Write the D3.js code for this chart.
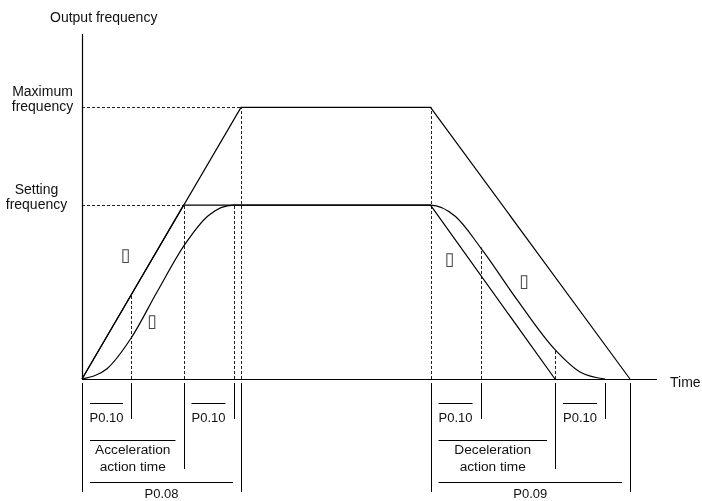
<!DOCTYPE html>
<html>
<head>
<meta charset="utf-8">
<script src="https://cdn.jsdelivr.net/npm/d3@7"></script>
<style>
  body { margin: 0; background: #fff; }
  svg { will-change: transform; }
  text { font-family: "Liberation Sans", Arial, sans-serif; font-size: 13.7px; fill: #111; }
</style>
</head>
<body>
<div id="viz-container"></div>
<script>
var width = 702,
    height = 501;

// frequencies (Hz) and time (s)
var maxFreq = 50,
    setFreq = 32;

// straight ramp to the maximum frequency
var maxLineT = [0, 3.18, 6.97, 10.96];
var maxLineF = [0, maxFreq, maxFreq, 0];

// straight ramp to the setting frequency
var setLineT = [0, 2.03, 6.97, 9.46];
var setLineF = [0, setFreq, setFreq, 0];

// S-curve ramp
var sCurveT = [0, 0.5, 0.98, 1.5, 2.03, 2.53, 3.03, 6.97, 7.47, 7.97, 8.7, 9.46, 9.96, 10.46];
var sCurveF = [0, 1.9, 7.5, 16, 24.4, 30.1, 32, 32, 29.9, 24.2, 14.6, 5.4, 1.3, 0];

// dashed guides: time, and frequency they reach up to
var guideT = [0.98, 2.03, 3.03, 3.18, 6.97, 7.97, 9.46];
var guideF = [15.7, 32, 32, 50, 50, 24.2, 5.4];

// markers below the time axis: time and length class
var markT = [0, 0.98, 2.03, 3.03, 3.18, 6.97, 7.97, 9.46, 10.46, 10.96];
var markLen = ["long", "short", "mid", "short", "long", "long", "short", "mid", "short", "long"];

// spans labelled under the axis
var spanLabels = [["P0.10"], ["P0.10"], ["Acceleration", "action time"], ["P0.08"],
                  ["P0.10"], ["P0.10"], ["Deceleration", "action time"], ["P0.09"]];
var spanFrom = [0, 2.03, 0, 0, 6.97, 9.46, 6.97, 6.97];
var spanTo = [0.98, 3.03, 2.03, 3.18, 7.97, 10.46, 9.46, 10.96];
var spanRow = [0, 0, 1, 2, 0, 0, 1, 2];

// circled step markers (shown as boxes in the source)
var stepT = [0.87, 1.4, 7.35, 8.84];
var stepF = [23.0, 10.8, 22.2, 18.3];

var svg = d3.select("#viz-container")
            .append("svg")
            .attr("width", width)
            .attr("height", height);

var x = d3.scaleLinear().domain([0, 11.5]).range([82, 657]);
var y = d3.scaleLinear().domain([0, 63.5]).range([379, 34]);

function zip(ts, fs) {
  return ts.map(function(t, i) { return {t: t, f: fs[i]}; });
}

var line = d3.line()
             .x(function(d) { return x(d.t); })
             .y(function(d) { return y(d.f); });

// dashed guides
var dash = svg.append("g")
              .attr("stroke", "#222")
              .attr("stroke-width", 1)
              .attr("stroke-dasharray", "3,2")
              .attr("fill", "none");

dash.selectAll("line.v")
    .data(guideT)
    .enter().append("line")
    .attr("class", "v")
    .attr("x1", function(d) { return Math.round(x(d)) + 0.5; })
    .attr("x2", function(d) { return Math.round(x(d)) + 0.5; })
    .attr("y1", y(0))
    .attr("y2", function(d, i) { return y(guideF[i]); });

dash.selectAll("line.h")
    .data([[maxFreq, 3.18], [setFreq, 2.03]])
    .enter().append("line")
    .attr("class", "h")
    .attr("x1", x(0))
    .attr("x2", function(d) { return x(d[1]); })
    .attr("y1", function(d) { return Math.round(y(d[0])) + 0.5; })
    .attr("y2", function(d) { return Math.round(y(d[0])) + 0.5; });

// ramps
var curves = svg.append("g")
                .attr("fill", "none")
                .attr("stroke", "#000")
                .attr("stroke-width", 1.2);

curves.append("path").attr("d", line(zip(maxLineT, maxLineF)));
curves.append("path").attr("d", line(zip(setLineT, setLineF)));
curves.append("path").attr("d", line.curve(d3.curveMonotoneX)(zip(sCurveT, sCurveF)));

// axes
svg.append("line")
   .attr("x1", x(0) + 0.5).attr("x2", x(0) + 0.5)
   .attr("y1", y(63.5)).attr("y2", y(0))
   .attr("stroke", "#000").attr("stroke-width", 1.2);

svg.append("line")
   .attr("x1", x(0)).attr("x2", x(11.5))
   .attr("y1", y(0) + 0.5).attr("y2", y(0) + 0.5)
   .attr("stroke", "#000").attr("stroke-width", 1.2);

svg.append("text").attr("x", 50).attr("y", 22).style("font-size", "14px").text("Output frequency");
svg.append("text").attr("x", 670).attr("y", 387).style("font-size", "14px").text("Time");

var yLabels = [["Maximum", "frequency"], ["Setting", "frequency"]];
var yLabelF = [maxFreq, setFreq];
svg.selectAll("text.ylab")
   .data(yLabels)
   .enter().append("text")
   .attr("class", "ylab")
   .attr("text-anchor", "middle")
   .style("font-size", "14px")
   .selectAll("tspan")
   .data(function(d, i) { return d.map(function(s, j) { return {s: s, j: j, f: yLabelF[i]}; }); })
   .enter().append("tspan")
   .attr("x", function(d) { return d.f === maxFreq ? 42.5 : 36.5; })
   .attr("y", function(d) { return y(d.f) - 11 + d.j * 15; })
   .text(function(d) { return d.s; });

svg.selectAll("text.step")
   .data(stepT)
   .enter().append("text")
   .attr("class", "step")
   .attr("text-anchor", "middle")
   .attr("x", function(d) { return x(d); })
   .attr("y", function(d, i) { return y(stepF[i]) + 7; })
   .style("font-family", "DejaVu Sans")
   .style("font-size", "18px")
   .style("fill", "#444")
   .text("\u25AF");

// markers under the axis
var markBottom = {short: 419, mid: 469, long: 492};
svg.append("g")
   .attr("stroke", "#000")
   .attr("stroke-width", 1)
   .selectAll("line")
   .data(markT)
   .enter().append("line")
   .attr("x1", function(d) { return Math.round(x(d)) + 0.5; })
   .attr("x2", function(d) { return Math.round(x(d)) + 0.5; })
   .attr("y1", 383)
   .attr("y2", function(d, i) { return markBottom[markLen[i]]; });

var rowLineY = [403.5, 440.5, 482.5];
var rowTextY = [421.5, 454, 498];

var span = svg.selectAll("g.span")
              .data(spanLabels)
              .enter().append("g")
              .attr("class", "span");

span.append("line")
    .attr("x1", function(d, i) { return x(spanFrom[i]) + 8; })
    .attr("x2", function(d, i) { return x(spanTo[i]) - 8; })
    .attr("y1", function(d, i) { return rowLineY[spanRow[i]]; })
    .attr("y2", function(d, i) { return rowLineY[spanRow[i]]; })
    .attr("stroke", "#000")
    .attr("stroke-width", 1);

span.append("text")
    .attr("text-anchor", "middle")
    .style("font-size", function(d) { return d.length > 1 ? "13.7px" : "13px"; })
    .selectAll("tspan")
    .data(function(d, i) {
      var cx = (x(spanFrom[i]) + x(spanTo[i])) / 2;
      return d.map(function(s, j) { return {s: s, j: j, cx: cx, row: spanRow[i]}; });
    })
    .enter().append("tspan")
    .attr("x", function(d) { return d.cx; })
    .attr("y", function(d) { return rowTextY[d.row] + d.j * 16.5; })
    .text(function(d) { return d.s; });
</script>
</body>
</html>
